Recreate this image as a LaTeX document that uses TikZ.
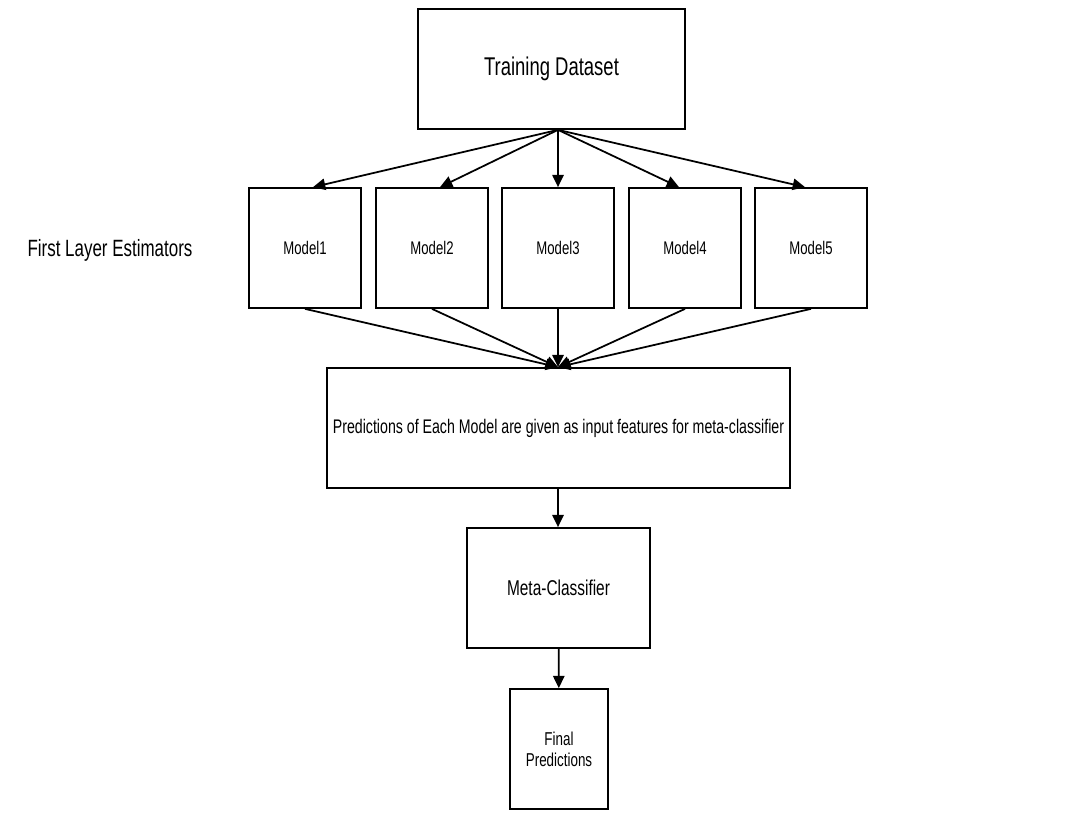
\documentclass[tikz,border=0pt]{standalone}
\usepackage{fontspec}
\setmainfont{Liberation Sans}[FakeStretch=0.72]
\usepackage{tikz}
\usetikzlibrary{arrows.meta, positioning}

\tikzset{
  box/.style={draw, line width=1pt, inner sep=0pt, align=center},
  modelbox/.style={box, minimum width=2.24cm, minimum height=2.4cm, font=\fontsize{10.4}{12.5}\selectfont},
  arr/.style={line width=1pt, -{Triangle[length=7pt,width=6.5pt]}}
}

\begin{document}
\begin{tikzpicture}[x=0.02cm, y=-0.02cm]
\useasboundingbox (0,0) rectangle (1078,817);
\node[box, minimum width=5.34cm, minimum height=2.4cm, font=\fontsize{14.6}{17}\selectfont] (train) at (551.5,69) {Training Dataset};
\node[font=\fontsize{13.4}{16}\selectfont] (layer) at (110,250) {First Layer Estimators};
\foreach \x [count = \i] in {305,432,558,685,811}{
	\node[modelbox] (m\i) at (\x,248) {Model\i};
}
\node[box, minimum width=9.26cm, minimum height=2.4cm, font=\fontsize{11.2}{13}\selectfont] (pred) at (558.5,428) {Predictions of Each Model are given as input features for meta-classifier};
\node[box, minimum width=3.66cm, minimum height=2.4cm, font=\fontsize{12.2}{14}\selectfont] (meta) at (558.5,588) {Meta-Classifier};
\node[box, minimum width=1.96cm, minimum height=2.4cm, font=\fontsize{10.6}{12}\selectfont] (final) at (559,749) {Final\\Predictions};
% fan out and fan in
\coordinate (src) at (m3 |- train.south);
\coordinate (snk) at (m3 |- pred.north);
\foreach \i/\dx in {1/8,2/8,3/0,4/-6,5/-6}{
	\draw[arr] (src) -- ([xshift=\dx*0.02cm]m\i.north);
	\draw[arr] (m\i.south) -- (snk);
}
\draw[arr] (pred.south -| m3) -- (meta.north -| m3);
\draw[arr] (meta) -- (final);
\end{tikzpicture}
\end{document}
